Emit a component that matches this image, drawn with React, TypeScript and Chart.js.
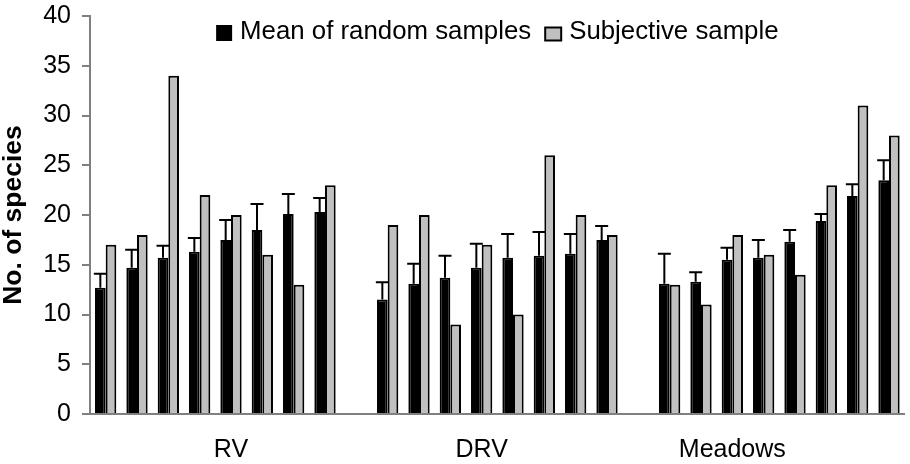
import React, { useEffect, useRef } from "react";
import { Chart, registerables } from "chart.js";

Chart.register(...registerables);

// ---- data ----
const groupNames = ["RV", "DRV", "Meadows"];
// position (index inside each group of 8 pairs) where the group name is written
const groupLabelIndex = [4, 3, 2];

const seriesNames = ["Mean of random samples", "Subjective sample"];

const rvMean = [12.7, 14.7, 15.7, 16.3, 17.5, 18.5, 20.1, 20.3];
const rvErr = [1.4, 1.8, 1.2, 1.4, 2.0, 2.6, 2.0, 1.4];
const rvSubj = [17, 18, 34, 22, 20, 16, 13, 23];

const drvMean = [11.5, 13.1, 13.7, 14.7, 15.7, 15.9, 16.1, 17.5];
const drvErr = [1.75, 2.0, 2.2, 2.4, 2.4, 2.4, 2.0, 1.4];
const drvSubj = [19, 20, 9, 17, 10, 26, 20, 18];

const meadowsMean = [13.1, 13.3, 15.5, 15.7, 17.3, 19.4, 21.9, 23.5];
const meadowsErr = [3.0, 0.95, 1.2, 1.8, 1.2, 0.7, 1.2, 2.0];
const meadowsSubj = [13, 11, 18, 16, 14, 23, 31, 28];

const yMin = 0;
const yMax = 40;
const yStep = 5;

// ---- build flat category table (one empty slot between groups) ----
const groupMeans = [rvMean, drvMean, meadowsMean];
const groupErrs = [rvErr, drvErr, meadowsErr];
const groupSubj = [rvSubj, drvSubj, meadowsSubj];

const labels: string[] = [];
const meanData: (number | null)[] = [];
const errData: (number | null)[] = [];
const subjData: (number | null)[] = [];
groupNames.forEach((name, g) => {
  if (g > 0) {
    labels.push("");
    meanData.push(null);
    errData.push(null);
    subjData.push(null);
  }
  groupMeans[g].forEach((v, i) => {
    labels.push(i === groupLabelIndex[g] ? name : "");
    meanData.push(v);
    errData.push(groupErrs[g][i]);
    subjData.push(groupSubj[g][i]);
  });
});

const FONT = '"Liberation Sans", Arial, Helvetica, sans-serif';
const GREY = "#c0c0c0";
const AXIS = "#808080";

const errorBarPlugin = {
  id: "errorBars",
  afterDatasetsDraw(chart: any) {
    const { ctx } = chart;
    const meta = chart.getDatasetMeta(0);
    const yScale = chart.scales.y;
    ctx.save();
    ctx.strokeStyle = "#000";
    ctx.lineWidth = 2;
    meta.data.forEach((el: any, i: number) => {
      const v = meanData[i];
      const e = errData[i];
      if (v == null || e == null) return;
      const x = el.x;
      const yBar = yScale.getPixelForValue(v);
      const yTop = yScale.getPixelForValue(v + e);
      ctx.beginPath();
      ctx.moveTo(x, yBar);
      ctx.lineTo(x, yTop);
      ctx.moveTo(x - 6.5, yTop);
      ctx.lineTo(x + 6.5, yTop);
      ctx.stroke();
    });
    ctx.restore();
  },
};

const overlayLegendPlugin = {
  id: "overlayLegend",
  afterDraw(chart: any) {
    const { ctx, chartArea } = chart;
    ctx.save();
    ctx.font = `25.8px ${FONT}`;
    ctx.textBaseline = "alphabetic";
    ctx.textAlign = "left";
    const box = 16;
    const gapText = 8;
    const gapItem = 14;
    const w1 = ctx.measureText(seriesNames[0]).width;
    const w2 = ctx.measureText(seriesNames[1]).width;
    const total = box + gapText + w1 + gapItem + box + gapText + w2;
    let x = (chartArea.left + chartArea.right) / 2 - total / 2;
    const baseline = chartArea.top + 23;
    // item 1
    ctx.fillStyle = "#000";
    ctx.fillRect(x, baseline - 14, box, box);
    x += box + gapText;
    ctx.fillStyle = "#000";
    ctx.fillText(seriesNames[0], x, baseline);
    x += w1 + gapItem;
    // item 2
    ctx.fillStyle = GREY;
    ctx.fillRect(x, baseline - 11.5, box, 13);
    ctx.strokeStyle = "#000";
    ctx.lineWidth = 2;
    ctx.strokeRect(x, baseline - 11.5, box, 13);
    x += box + gapText;
    ctx.fillStyle = "#000";
    ctx.fillText(seriesNames[1], x, baseline);
    ctx.restore();
  },
};

export default function App() {
  const canvasRef = useRef<HTMLCanvasElement | null>(null);

  useEffect(() => {
    if (!canvasRef.current) return;
    const chart = new Chart(canvasRef.current, {
      type: "bar",
      data: {
        labels,
        datasets: [
          {
            label: seriesNames[0],
            data: meanData,
            backgroundColor: "#000",
            borderColor: "#000",
            borderWidth: 2,
            barPercentage: 1,
            categoryPercentage: 0.68,
          },
          {
            label: seriesNames[1],
            data: subjData,
            backgroundColor: GREY,
            borderColor: "#000",
            borderWidth: 2,
            barPercentage: 1,
            categoryPercentage: 0.68,
          },
        ],
      },
      options: {
        animation: false,
        responsive: true,
        maintainAspectRatio: false,
        layout: { padding: { top: 16, right: 0, left: 0, bottom: 0 } },
        plugins: {
          legend: { display: false },
          tooltip: { enabled: false },
        },
        scales: {
          x: {
            grid: { display: false, drawTicks: false },
            border: { display: true, color: AXIS, width: 2 },
            ticks: {
              autoSkip: false,
              maxRotation: 0,
              minRotation: 0,
              padding: 21,
              color: "#000",
              font: { family: FONT, size: 25 },
            },
            afterFit: (scale: any) => {
              scale.height = 50;
            },
          },
          y: {
            min: yMin,
            max: yMax,
            grid: {
              display: true,
              drawOnChartArea: false,
              drawTicks: true,
              tickLength: 8,
              color: AXIS,
              lineWidth: 2,
            },
            border: { display: true, color: AXIS, width: 2 },
            ticks: {
              stepSize: yStep,
              padding: 11,
              color: "#000",
              font: { family: FONT, size: 25 },
            },
            title: {
              display: true,
              text: "No. of species",
              color: "#000",
              padding: 0,
              font: { family: FONT, size: 26.5, weight: "bold", lineHeight: 1.0 },
            },
            afterFit: (scale: any) => {
              scale.width = 90;
              scale.paddingTop = 0;
              scale.paddingBottom = 0;
            },
          },
        },
      },
      plugins: [errorBarPlugin, overlayLegendPlugin],
    });
    return () => chart.destroy();
  }, []);

  return (
    <div
      style={{
        position: "absolute",
        left: 0,
        top: 0,
        width: 910,
        height: 464,
        background: "#fff",
      }}
    >
      <canvas ref={canvasRef} />
    </div>
  );
}
